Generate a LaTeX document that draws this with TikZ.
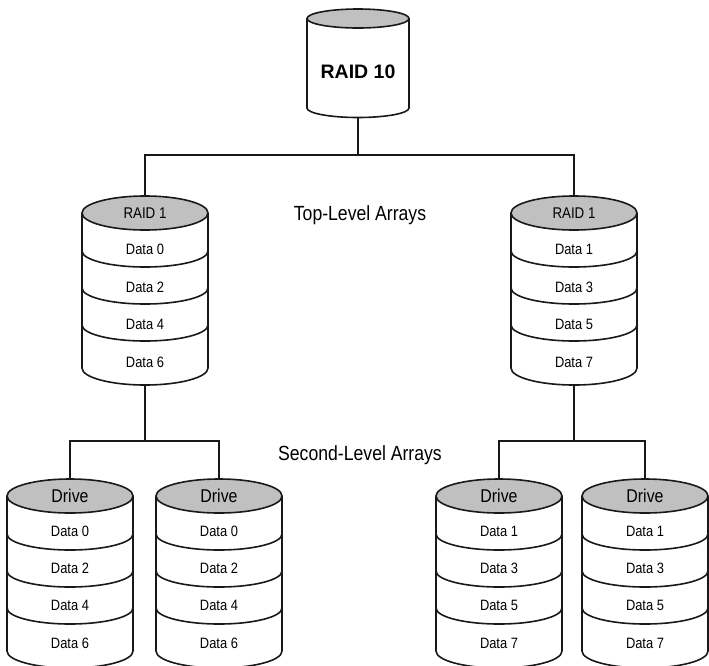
\documentclass[tikz,border=0pt]{standalone}
\usepackage{fontspec}
\setmainfont{Liberation Sans}
\newfontfamily\cnd[FakeStretch=0.86]{Liberation Sans}
\definecolor{topgray}{RGB}{192,192,192}
\tikzset{
  cylline/.style={draw=black!90, line width=1.6pt},
  conn/.style={draw=black!90, line width=1.6pt},
  datatxt/.style={font=\cnd\fontsize{15}{15}\selectfont, inner sep=0pt},
  headtxt/.style={font=\cnd\fontsize{15.5}{15.5}\selectfont, inner sep=0pt},
  drivetxt/.style={font=\cnd\fontsize{18.5}{18.5}\selectfont, inner sep=0pt},
  leveltxt/.style={font=\cnd\fontsize{20.5}{20.5}\selectfont, inner sep=0pt},
}
% #1 cx, #2 y of top ellipse centre, #3 y where sides end, #4 rx, #5 ry
\newcommand{\cylbody}[5]{%
  \fill[white] (#1-#4,-#2) -- (#1-#4,-#3) arc[start angle=180,end angle=360,x radius=#4pt,y radius=#5pt] -- (#1+#4,-#2) -- cycle;
  \draw[cylline] (#1-#4,-#2) -- (#1-#4,-#3) arc[start angle=180,end angle=360,x radius=#4pt,y radius=#5pt] -- (#1+#4,-#2);
  \draw[cylline,fill=topgray] (#1,-#2) ellipse[x radius=#4pt,y radius=#5pt];
}
% #1 cx, #2 y of divider at sides, #3 rx, #4 ry
\newcommand{\cyldiv}[4]{%
  \draw[cylline] (#1-#3,-#2) arc[start angle=180,end angle=360,x radius=#3pt,y radius=#4pt];
}
% stacked cylinder: #1 cx, #2 top y
\newcommand{\stackcyl}[2]{%
  \pgfmathsetmacro{\ya}{#2+38}\pgfmathsetmacro{\yb}{#2+75}\pgfmathsetmacro{\yc}{#2+112}\pgfmathsetmacro{\yd}{#2+155}%
  \cylbody{#1}{#2}{\yd}{63}{17}%
  \cyldiv{#1}{\ya}{63}{16}\cyldiv{#1}{\yb}{63}{16}\cyldiv{#1}{\yc}{63}{16}%
}
\begin{document}
\begin{tikzpicture}[x=1pt,y=1pt]
\useasboundingbox (0,0) rectangle (709,-665);

% connection points
\coordinate (r10bot) at (358,-117);
\coordinate (bus1) at (358,-155);
\coordinate (tLtop) at (145,-197);
\coordinate (tRtop) at (574,-197);
\coordinate (tLbot) at (145,-385);
\coordinate (tRbot) at (574,-385);
\coordinate (bus2L) at (145,-441);
\coordinate (bus2R) at (574,-441);
\coordinate (d1top) at (70,-480);
\coordinate (d2top) at (219,-480);
\coordinate (d3top) at (499,-480);
\coordinate (d4top) at (645,-480);

% connectors
\draw[conn] (r10bot) -- (bus1);
\draw[conn] (tLtop) |- (bus1) -| (tRtop);
\draw[conn] (tLbot) -- (bus2L);
\draw[conn] (d1top) |- (bus2L) -| (d2top);
\draw[conn] (tRbot) -- (bus2R);
\draw[conn] (d3top) |- (bus2R) -| (d4top);

% RAID 10
\cylbody{358}{18.5}{108}{51}{9.5}
\node[font=\bfseries\fontsize{19.5}{19.5}\selectfont, inner sep=0pt] (r10) at (358,-72) {RAID 10};

% top-level arrays
\stackcyl{145}{213}
\stackcyl{574}{213}
\node[headtxt] (tLh) at (145,-213) {RAID 1};
\node[datatxt] (tL0) at (145,-249) {Data 0};
\node[datatxt] (tL2) at (145,-287) {Data 2};
\node[datatxt] (tL4) at (145,-324) {Data 4};
\node[datatxt] (tL6) at (145,-362) {Data 6};
\node[headtxt] (tRh) at (574,-213) {RAID 1};
\node[datatxt] (tR1) at (574,-249) {Data 1};
\node[datatxt] (tR3) at (574,-287) {Data 3};
\node[datatxt] (tR5) at (574,-324) {Data 5};
\node[datatxt] (tR7) at (574,-362) {Data 7};

\node[leveltxt] (toplbl) at (360,-215) {Top-Level Arrays};
\node[leveltxt] (seclbl) at (360,-455) {Second-Level Arrays};

% drives
\foreach \cx/\nm/\a/\b/\c/\d in {70/d1/0/2/4/6, 219/d2/0/2/4/6, 499/d3/1/3/5/7, 645/d4/1/3/5/7}{
  \stackcyl{\cx}{496}
  \node[drivetxt] (\nm h) at (\cx,-496) {Drive};
  \node[datatxt] (\nm a) at (\cx,-531) {Data \a};
  \node[datatxt] (\nm b) at (\cx,-568) {Data \b};
  \node[datatxt] (\nm c) at (\cx,-605) {Data \c};
  \node[datatxt] (\nm d) at (\cx,-643) {Data \d};
}
\end{tikzpicture}
\end{document}
